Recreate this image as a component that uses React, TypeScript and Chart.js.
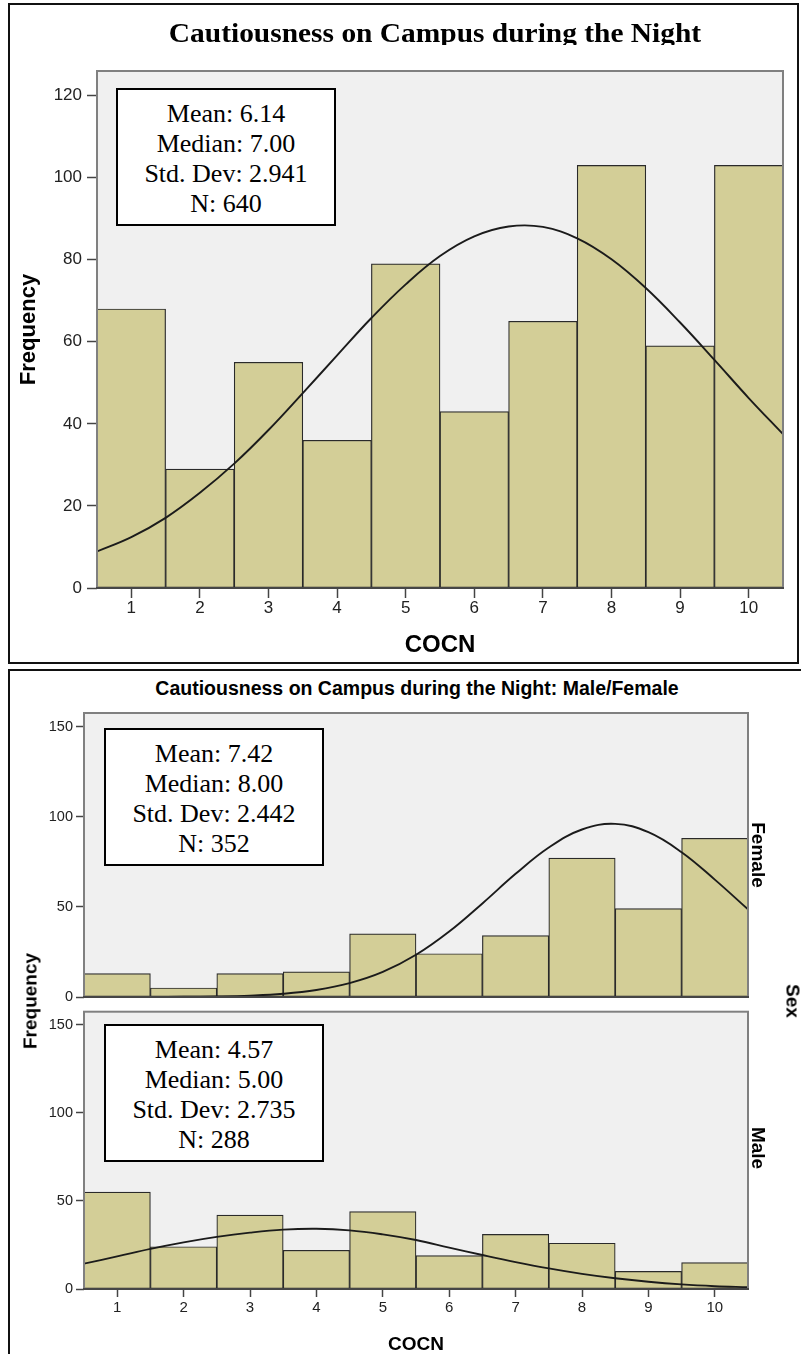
import React, { useEffect, useRef } from 'react';
import { Chart, registerables } from 'chart.js';

Chart.register(...registerables);

// ---------------- data ----------------
const binValues = [1, 2, 3, 4, 5, 6, 7, 8, 9, 10];
const xTickLabels = ['1', '2', '3', '4', '5', '6', '7', '8', '9', '10'];

const allCounts = [68, 29, 55, 36, 79, 43, 65, 103, 59, 103];
const femaleCounts = [13, 5, 13, 14, 35, 24, 34, 77, 49, 88];
const maleCounts = [55, 24, 42, 22, 44, 19, 31, 26, 10, 15];

// normal curves, every half unit
const curveX = [0.5, 1, 1.5, 2, 2.5, 3, 3.5, 4, 4.5, 5, 5.5, 6, 6.5, 7, 7.5, 8, 8.5, 9, 9.5, 10, 10.5];
const allCurveY = [8.9, 12.4, 17.1, 23.2, 30.3, 38.5, 47.5, 56.7, 65.8, 74, 80.9, 85.7, 88.1, 88, 85.2, 80.1, 73.1, 64.7, 55.6, 46.3, 37.5];
const femaleCurveY = [0, 0.01, 0.04, 0.11, 0.31, 0.78, 1.8, 3.9, 7.7, 13.9, 23.4, 36.3, 51.9, 68.3, 82.9, 92.9, 96, 91.4, 80.3, 65.1, 48.6];
const maleCurveY = [14.4, 18.5, 22.8, 26.5, 29.6, 32, 33.7, 34.2, 33.3, 31, 27.8, 23.5, 19.3, 15.3, 11.7, 8.6, 6.1, 4.1, 2.6, 1.6, 1];

const allYTicks = [0, 20, 40, 60, 80, 100, 120];
const allYTickLabels = ['0', '20', '40', '60', '80', '100', '120'];
const panelYTicks = [0, 50, 100, 150];
const panelYTickLabels = ['0', '50', '100', '150'];

const allStats = ['Mean: 6.14', 'Median: 7.00', 'Std. Dev: 2.941', 'N: 640'];
const femaleStats = ['Mean: 7.42', 'Median: 8.00', 'Std. Dev: 2.442', 'N: 352'];
const maleStats = ['Mean: 4.57', 'Median: 5.00', 'Std. Dev: 2.735', 'N: 288'];

const mainTitle = 'Cautiousness on Campus during the Night';
const panelTitle = 'Cautiousness on Campus during the Night: Male/Female';
const xTitle = 'COCN';
const yTitle = 'Frequency';
const groupTitle = 'Sex';
const femaleLabel = 'Female';
const maleLabel = 'Male';

// ---------------- styling ----------------
const PAGE_W = 801;
const PAGE_H = 1354;
const SANS = "'Liberation Sans', Arial, Helvetica, sans-serif";
const SERIF = "'Liberation Serif', 'Times New Roman', serif";
const BAR_FILL = '#D3CE97';
const BAR_EDGE = '#2a2a2a';
const PLOT_BG = '#F0F0F0';
const TICK_COLOR = '#222';

const plotFrame = {
  id: 'plotFrame',
  beforeDraw(chart: any) {
    const { ctx, chartArea: a } = chart;
    ctx.save();
    ctx.fillStyle = PLOT_BG;
    ctx.fillRect(a.left, a.top, a.right - a.left, a.bottom - a.top);
    ctx.restore();
  },
  afterDatasetsDraw(chart: any) {
    const { ctx, chartArea: a } = chart;
    ctx.save();
    ctx.strokeStyle = '#808080';
    ctx.lineWidth = 2;
    ctx.strokeRect(a.left, a.top, a.right - a.left, a.bottom - a.top);
    ctx.strokeStyle = '#333';
    ctx.lineWidth = 1.6;
    ctx.beginPath();
    ctx.moveTo(a.left - 1, a.bottom);
    ctx.lineTo(a.right + 1, a.bottom);
    ctx.stroke();
    ctx.restore();
  },
};

type HistProps = {
  counts: number[];
  curveY: number[];
  yMax: number;
  yTicks: number[];
  yTickLabels: string[];
  canvasTop: number;
  canvasHeight: number;
  plot: { left: number; right: number; top: number; bottom: number };
  showX: boolean;
  yTickFont: number;
  xTickFont: number;
  tickLen: number;
  yTickPad: number;
  xTickPad: number;
  yTitleSpec?: { size: number; center: number };
  xTitleSpec?: { size: number; center: number };
};

function Histogram(p: HistProps) {
  const ref = useRef<HTMLCanvasElement | null>(null);
  useEffect(() => {
    if (!ref.current) return;
    const canvasBottom = p.canvasTop + p.canvasHeight;
    const xAxisH = p.showX ? canvasBottom - p.plot.bottom : 0;
    const padBottom = p.showX ? 0 : canvasBottom - p.plot.bottom;
    const yTitleLH = p.yTitleSpec ? p.yTitleSpec.size * 1.2 : 0;
    const xTitleLH = p.xTitleSpec ? p.xTitleSpec.size * 1.2 : 0;

    const chart = new Chart(ref.current, {
      type: 'bar',
      data: {
        datasets: [
          {
            type: 'line',
            data: curveX.map((x, i) => ({ x, y: p.curveY[i] })),
            borderColor: '#1b1b1b',
            borderWidth: 1.9,
            pointRadius: 0,
            tension: 0.4,
            fill: false,
            order: 0,
          } as any,
          {
            type: 'bar',
            data: binValues.map((x, i) => ({ x, y: p.counts[i] })),
            backgroundColor: BAR_FILL,
            borderColor: BAR_EDGE,
            borderWidth: 1.2,
            borderSkipped: false,
            barPercentage: 1,
            categoryPercentage: 1,
            order: 1,
          } as any,
        ],
      },
      options: {
        animation: false,
        responsive: false,
        devicePixelRatio: 1,
        events: [],
        layout: {
          padding: {
            left: 0,
            top: p.plot.top - p.canvasTop,
            right: PAGE_W - p.plot.right,
            bottom: padBottom,
          },
        },
        plugins: {
          legend: { display: false },
          tooltip: { enabled: false },
          title: { display: false },
        },
        scales: {
          x: {
            type: 'linear',
            min: 0.5,
            max: 10.5,
            offset: false,
            display: p.showX,
            afterBuildTicks: (s: any) => {
              s.ticks = binValues.map((v) => ({ value: v }));
            },
            afterFit: (s: any) => {
              s.height = xAxisH;
            },
            ticks: {
              autoSkip: false,
              maxRotation: 0,
              padding: p.xTickPad,
              color: TICK_COLOR,
              font: { family: SANS, size: p.xTickFont },
              callback: (_v: any, i: number) => xTickLabels[i],
            },
            grid: {
              drawOnChartArea: false,
              offset: false,
              tickLength: p.tickLen,
              tickColor: '#444',
              tickWidth: 1.5,
            },
            border: { display: false },
            title: p.xTitleSpec
              ? {
                  display: true,
                  text: xTitle,
                  color: '#000',
                  font: { family: SANS, size: p.xTitleSpec.size, weight: 'bold' },
                  padding: { top: 0, bottom: canvasBottom - p.xTitleSpec.center - xTitleLH / 2 },
                }
              : { display: false },
          } as any,
          y: {
            type: 'linear',
            min: 0,
            max: p.yMax,
            afterBuildTicks: (s: any) => {
              s.ticks = p.yTicks.map((v) => ({ value: v }));
            },
            afterFit: (s: any) => {
              s.width = p.plot.left;
            },
            ticks: {
              padding: p.yTickPad,
              color: TICK_COLOR,
              font: { family: SANS, size: p.yTickFont },
              callback: (_v: any, i: number) => p.yTickLabels[i],
            },
            grid: {
              drawOnChartArea: false,
              tickLength: p.tickLen,
              tickColor: '#444',
              tickWidth: 1.5,
            },
            border: { display: false },
            title: p.yTitleSpec
              ? {
                  display: true,
                  text: yTitle,
                  color: '#000',
                  font: { family: SANS, size: p.yTitleSpec.size, weight: 'bold' },
                  padding: { top: p.yTitleSpec.center - yTitleLH / 2, bottom: 0 },
                }
              : { display: false },
          } as any,
        },
      } as any,
      plugins: [plotFrame as any],
    });
    return () => chart.destroy();
  }, []);

  return (
    <canvas
      ref={ref}
      width={PAGE_W}
      height={p.canvasHeight}
      style={{ position: 'absolute', left: 0, top: p.canvasTop, width: PAGE_W, height: p.canvasHeight }}
    />
  );
}

function StatsBox({ left, top, lines }: { left: number; top: number; lines: string[] }) {
  return (
    <div
      style={{
        position: 'absolute',
        left,
        top,
        width: 220,
        height: 138,
        boxSizing: 'border-box',
        border: '2px solid #000',
        background: '#fff',
        fontFamily: SERIF,
        fontSize: 26,
        lineHeight: '30px',
        textAlign: 'center',
        paddingTop: 9,
        color: '#000',
      }}
    >
      {lines.map((l) => (
        <div key={l}>{l}</div>
      ))}
    </div>
  );
}

function Rotated({ text, cx, cy, deg, size }: { text: string; cx: number; cy: number; deg: number; size: number }) {
  return (
    <div
      style={{
        position: 'absolute',
        left: cx,
        top: cy,
        transform: `translate(-50%, -50%) rotate(${deg}deg)`,
        whiteSpace: 'nowrap',
        fontFamily: SANS,
        fontWeight: 'bold',
        fontSize: size,
        lineHeight: `${size}px`,
        color: '#000',
      }}
    >
      {text}
    </div>
  );
}

export default function App() {
  return (
    <div
      style={{
        position: 'absolute',
        left: 0,
        top: 0,
        width: PAGE_W,
        height: PAGE_H,
        overflow: 'hidden',
        background: '#fff',
      }}
    >
      {/* frames */}
      <div
        style={{
          position: 'absolute',
          left: 8,
          top: 3,
          width: 791,
          height: 661,
          boxSizing: 'border-box',
          border: '2px solid #111',
        }}
      />
      <div
        style={{
          position: 'absolute',
          left: 8,
          top: 668.5,
          width: 900,
          height: 800,
          boxSizing: 'border-box',
          border: '2px solid #111',
        }}
      />

      {/* top histogram */}
      <Histogram
        counts={allCounts}
        curveY={allCurveY}
        yMax={126}
        yTicks={allYTicks}
        yTickLabels={allYTickLabels}
        canvasTop={0}
        canvasHeight={662}
        plot={{ left: 97, right: 783, top: 71, bottom: 588 }}
        showX={true}
        yTickFont={17}
        xTickFont={17}
        tickLen={10}
        yTickPad={5}
        xTickPad={0}
        yTitleSpec={{ size: 22, center: 29 }}
        xTitleSpec={{ size: 24, center: 645 }}
      />
      <div style={{ position: 'absolute', left: 0, top: 0, width: PAGE_W, height: 45, overflow: 'hidden' }}>
        <div
          style={{
            position: 'absolute',
            left: 434.5,
            top: 19.7,
            transform: 'translateX(-50%) scaleX(1.09)',
            whiteSpace: 'nowrap',
            fontFamily: SERIF,
            fontWeight: 'bold',
            fontSize: 27,
            lineHeight: '27px',
            color: '#000',
          }}
        >
          {mainTitle}
        </div>
      </div>
      <StatsBox left={116} top={88} lines={allStats} />

      {/* paneled histogram */}
      <div
        style={{
          position: 'absolute',
          left: 417,
          top: 678.5,
          transform: 'translateX(-50%)',
          whiteSpace: 'nowrap',
          fontFamily: SANS,
          fontWeight: 'bold',
          fontSize: 19.5,
          lineHeight: '19.5px',
          color: '#000',
        }}
      >
        {panelTitle}
      </div>
      <Histogram
        counts={femaleCounts}
        curveY={femaleCurveY}
        yMax={157.5}
        yTicks={panelYTicks}
        yTickLabels={panelYTickLabels}
        canvasTop={700}
        canvasHeight={310}
        plot={{ left: 84, right: 748, top: 713, bottom: 997 }}
        showX={false}
        yTickFont={14.5}
        xTickFont={15}
        tickLen={8}
        yTickPad={3}
        xTickPad={2}
      />
      <Histogram
        counts={maleCounts}
        curveY={maleCurveY}
        yMax={157.5}
        yTicks={panelYTicks}
        yTickLabels={panelYTickLabels}
        canvasTop={1000}
        canvasHeight={370}
        plot={{ left: 84, right: 748, top: 1006, bottom: 1289 }}
        showX={true}
        yTickFont={14.5}
        xTickFont={15}
        tickLen={8}
        yTickPad={3}
        xTickPad={2}
        xTitleSpec={{ size: 19, center: 1345 }}
      />
      <StatsBox left={104} top={728} lines={femaleStats} />
      <StatsBox left={104} top={1024} lines={maleStats} />
      <Rotated text={yTitle} cx={29.5} cy={1001} deg={-90} size={19} />
      <Rotated text={femaleLabel} cx={758} cy={855} deg={90} size={19} />
      <Rotated text={maleLabel} cx={758} cy={1148} deg={90} size={19} />
      <Rotated text={groupTitle} cx={792.5} cy={1001} deg={90} size={19} />
    </div>
  );
}
